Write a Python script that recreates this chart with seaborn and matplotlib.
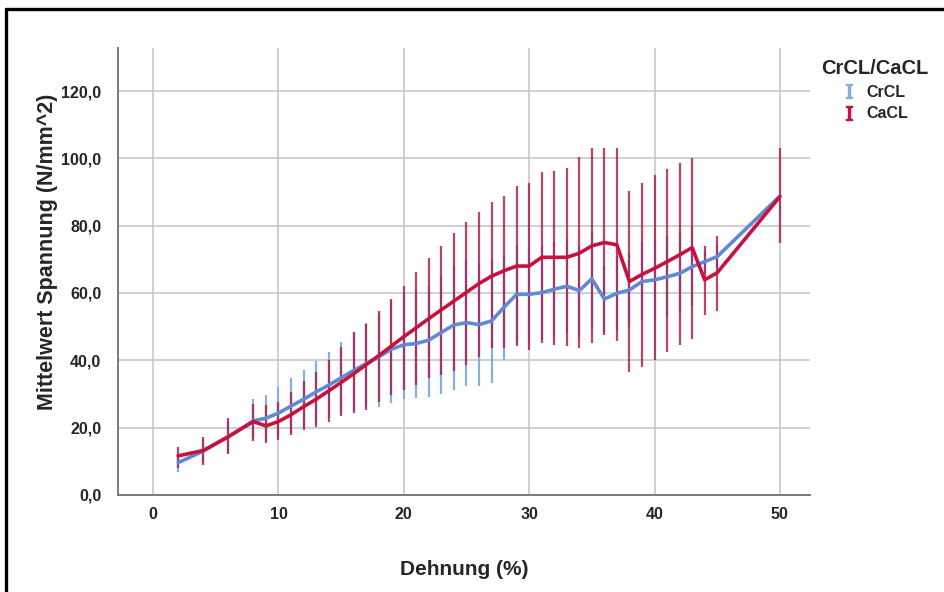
import pandas as pd
import seaborn as sns
import matplotlib.pyplot as plt
from matplotlib.lines import Line2D

# Dehnung (%) - gemeinsame x-Werte
dehnung = [2, 4, 6, 8, 9, 10, 11, 12, 13, 14, 15, 16, 17, 18, 19, 20, 21, 22, 23, 24, 25,
           26, 27, 28, 29, 30, 31, 32, 33, 34, 35, 36, 37, 38, 39, 40, 41, 42, 43, 44, 45, 50]

# CrCL: Mittelwert und Fehlerbalken
crcl_mean = [9.6, 13.0, 17.3, 22.0, 22.8, 24.3, 26.4, 28.4, 30.6, 32.6, 34.8, 37.0, 39.0, 41.0,
             43.3, 44.6, 45.0, 46.0, 48.3, 50.5, 51.2, 50.6, 51.7, 55.8, 59.6, 59.6, 60.1, 61.1,
             62.0, 60.7, 64.2, 58.2, 59.9, 60.9, 63.4, 63.9, 64.8, 65.8, 67.8, 69.3, 70.8, 88.8]
crcl_lo = [6.9, 9.5, 12.5, 16.5, 16.0, 17.0, 18.5, 20.0, 21.5, 22.8, 24.0, 25.0, 26.0, 26.2,
           27.2, 28.4, 28.8, 29.2, 30.0, 31.2, 32.4, 32.4, 33.2, 40.1, 45.0, 45.0, 46.0, 47.0,
           48.0, 47.0, 50.0, 48.0, 49.0, 50.0, 52.0, 52.0, 53.0, 54.0, 56.0, 66.0, 67.5, 88.8]
crcl_hi = [12.3, 16.5, 22.0, 28.4, 29.7, 32.2, 34.7, 37.1, 39.8, 42.6, 45.5, 48.0, 51.0, 54.0,
           58.0, 60.0, 61.0, 62.0, 65.0, 68.0, 70.0, 69.0, 70.0, 71.0, 74.0, 74.0, 74.0, 75.0,
           76.0, 74.0, 78.0, 68.0, 71.0, 72.0, 75.0, 76.0, 77.0, 78.0, 80.0, 72.6, 74.0, 88.8]

# CaCL: Mittelwert und Fehlerbalken
cacl_mean = [11.6, 13.2, 17.3, 21.8, 20.5, 21.8, 23.8, 26.2, 28.4, 30.9, 33.4, 36.0, 38.7, 41.4,
             44.2, 47.0, 49.7, 52.4, 55.0, 57.6, 60.2, 62.8, 65.0, 66.6, 68.0, 68.0, 70.6, 70.6,
             70.6, 71.8, 74.0, 75.0, 74.3, 63.4, 65.5, 67.3, 69.3, 71.3, 73.5, 63.9, 66.0, 88.6]
cacl_lo = [8.0, 8.9, 12.2, 16.0, 15.3, 16.3, 17.8, 19.3, 20.3, 21.8, 23.3, 24.3, 25.2, 27.7,
           29.7, 31.2, 32.7, 34.7, 35.6, 36.9, 38.6, 41.1, 43.6, 43.6, 44.1, 43.1, 45.0, 44.6,
           44.1, 43.6, 45.1, 47.5, 45.8, 36.6, 38.1, 40.1, 42.4, 44.6, 46.3, 53.5, 54.6, 74.7]
cacl_hi = [14.3, 17.3, 22.8, 27.0, 26.7, 27.7, 30.7, 33.7, 36.6, 40.1, 44.0, 48.3, 50.7, 54.5,
           58.2, 62.2, 66.3, 70.3, 74.1, 77.9, 81.2, 84.1, 87.1, 88.9, 91.8, 92.8, 96.0, 96.3,
           97.2, 100.3, 103.2, 103.1, 103.1, 90.3, 92.8, 95.0, 96.8, 98.7, 100.2, 74.0, 76.9, 103.1]

gruppen = ["CrCL", "CaCL"]
yticks = [0, 20, 40, 60, 80, 100, 120]
xticks = [0, 10, 20, 30, 40, 50]

df = pd.concat([
    pd.DataFrame({"Dehnung": dehnung, "Spannung": crcl_mean, "Gruppe": "CrCL"}),
    pd.DataFrame({"Dehnung": dehnung, "Spannung": cacl_mean, "Gruppe": "CaCL"}),
])

sns.set_style("white")
plt.rcParams['font.family'] = ['Liberation Sans', 'DejaVu Sans']
plt.rcParams['mathtext.fontset'] = 'dejavuserif'

fig = plt.figure(figsize=(9.44, 5.92), dpi=100)
ax = fig.add_axes([0.125, 0.164, 0.733, 0.755])

# fehlerbalken zuerst, blau unter rot
ax.vlines(dehnung, crcl_lo, crcl_hi, color="#86AEE0", lw=1.6, zorder=2)
ax.vlines(dehnung, cacl_lo, cacl_hi, color="#A8164A", lw=1.6, alpha=0.8, zorder=3)

sns.lineplot(data=df, x="Dehnung", y="Spannung", hue="Gruppe", hue_order=gruppen,
             palette={"CrCL": "#6189D6", "CaCL": "#C8123E"}, errorbar=None,
             lw=2.6, legend=False, ax=ax, zorder=4)

ax.set_xlim(-2.8, 52.4)
ax.set_ylim(0, 132.8)
ax.set_xticks(xticks)
ax.set_yticks(yticks)
ax.set_yticklabels([f"{v:.1f}".replace(".", ",") for v in yticks])
ax.tick_params(length=0, labelsize=11.5, pad=12)
for lab in ax.get_xticklabels() + ax.get_yticklabels():
    lab.set_fontweight("bold")
ax.tick_params(axis="x", pad=9)

ax.grid(True, color="#C4C4C4", lw=1.1)
ax.set_axisbelow(True)
for s in ["top", "right"]:
    ax.spines[s].set_visible(False)
for s in ["left", "bottom"]:
    ax.spines[s].set_color("#7A7A7A")
    ax.spines[s].set_linewidth(1.4)

ax.set_xlabel("Dehnung (%)", fontsize=15, fontweight="bold", labelpad=27)
ax.set_ylabel("Mittelwert Spannung (N/mm^2)", fontsize=15.5, fontweight="bold")
ax.yaxis.set_label_coords(-0.086, 0.545)

handles = [
    Line2D([], [], ls="none", marker=r"$\mathrm{I}$", markersize=10, color="#86AEE0"),
    Line2D([], [], ls="none", marker=r"$\mathrm{I}$", markersize=10, color="#C8123E"),
]
leg = fig.legend(handles, gruppen, title="CrCL/CaCL", loc="upper left",
                 bbox_to_anchor=(0.855, 0.924), frameon=False, handlelength=0.8,
                 handletextpad=0.7, labelspacing=0.4, prop={"size": 11.5, "weight": "bold"})
leg.get_title().set_fontsize(14.5)
leg.get_title().set_fontweight("bold")

# schwarzer rahmen oben und links
fig.add_artist(Line2D([0.006, 1.0], [0.985, 0.985], color="black", lw=2.4))
fig.add_artist(Line2D([0.006, 0.006], [0.0, 0.985], color="black", lw=2.4))

fig.savefig("out.png", dpi=100)
